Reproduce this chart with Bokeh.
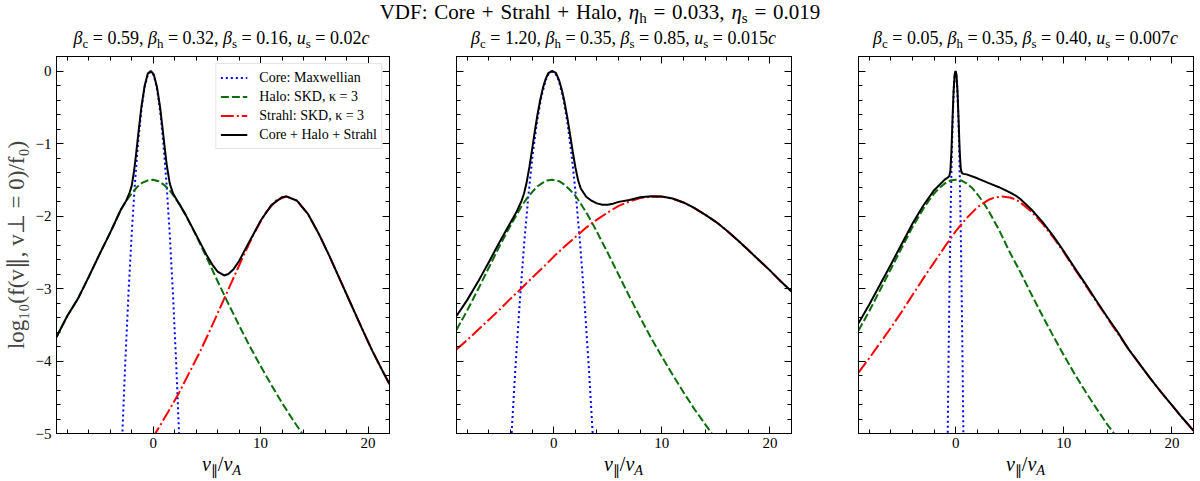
from bokeh.plotting import figure
from bokeh.layouts import row, column
from bokeh.models import (Div, LinearAxis, SingleIntervalTicker, Range1d, Legend, LegendItem,
                          CustomJSTickFormatter, InlineStyleSheet)
from bokeh.embed import file_html
from bokeh.resources import INLINE

SERIF = "Liberation Serif"

# ---------------- data ----------------
main_title = "VDF: Core + Strahl + Halo, <i>η</i><sub>h</sub> = 0.033, <i>η</i><sub>s</sub> = 0.019"
panel_titles = [
    "<i>β</i><sub>c</sub> = 0.59, <i>β</i><sub>h</sub> = 0.32, <i>β</i><sub>s</sub> = 0.16, <i>u</i><sub>s</sub> = 0.02<i>c</i>",
    "<i>β</i><sub>c</sub> = 1.20, <i>β</i><sub>h</sub> = 0.35, <i>β</i><sub>s</sub> = 0.85, <i>u</i><sub>s</sub> = 0.015<i>c</i>",
    "<i>β</i><sub>c</sub> = 0.05, <i>β</i><sub>h</sub> = 0.35, <i>β</i><sub>s</sub> = 0.40, <i>u</i><sub>s</sub> = 0.007<i>c</i>",
]
legend_labels = ["Core: Maxwellian", "Halo: SKD, κ = 3", "Strahl: SKD, κ = 3", "Core + Halo + Strahl"]
x_label = "<i>v</i><sub>∥</sub>/<i>v</i><sub><i>A</i></sub>"
y_label = "log₁₀(f(v∥, v⊥ = 0)/f₀)"

# Panel 1
p1_core_v = [-2.9, -2.6, -2.3, -2.0, -1.7, -1.4, -1.1, -0.8, -0.5, -0.23, 0.05, 0.35, 0.65, 0.95, 1.25, 1.55, 1.85, 2.15, 2.45]
p1_core_y = [-5.11, -4.03, -3.07, -2.25, -1.55, -0.98, -0.54, -0.23, -0.05, -0.01, -0.06, -0.24, -0.55, -1.0, -1.57, -2.27, -3.10, -4.06, -5.15]
p1_halo_v = [-9, -8, -7, -6, -5, -4, -3, -2.5, -2, -1.5, -1, -0.5, 0, 0.5, 1, 1.5, 2, 2.5, 3, 4, 5, 6, 7, 8, 9, 10, 11, 12, 13, 14]
p1_halo_y = [-3.67, -3.38, -3.14, -2.84, -2.53, -2.23, -1.91, -1.79, -1.69, -1.60, -1.54, -1.51, -1.50, -1.52, -1.57, -1.64, -1.74, -1.85, -1.98, -2.27, -2.58, -2.90, -3.21, -3.51, -3.80, -4.07, -4.33, -4.58, -4.81, -5.03]
p1_strahl_v = [-0.1, 0.4, 1.4, 2.4, 3.4, 4.4, 5.4, 6.4, 7.4, 8.4, 9.4, 10.4, 11.4, 12.4, 13.4, 14.4, 15.4, 16.4, 17.4, 18.4, 19.4, 20.4, 21.4, 22.0]
p1_strahl_y = [-5.07, -4.95, -4.70, -4.44, -4.15, -3.86, -3.54, -3.21, -2.88, -2.55, -2.24, -1.97, -1.79, -1.73, -1.79, -1.97, -2.24, -2.55, -2.88, -3.21, -3.54, -3.86, -4.15, -4.32]
p1_total_v = [-9, -8, -7, -6, -5, -4, -3, -2.5, -2.2, -2.0, -1.8, -1.6, -1.4, -1.1, -0.8, -0.5, -0.23, 0.05, 0.35, 0.65, 0.95, 1.25, 1.55, 1.85, 2.2, 2.5, 3, 4, 5, 5.5, 6, 6.6, 7, 7.5, 8, 9, 10, 11, 12, 12.4, 13.4, 14.4, 15.4, 16.4, 17.4, 18.4, 19.4, 20.4, 21.4, 22]
p1_total_y = [-3.67, -3.38, -3.14, -2.84, -2.53, -2.23, -1.91, -1.785, -1.68, -1.585, -1.40, -1.16, -0.887, -0.50, -0.208, -0.035, 0.0, -0.044, -0.218, -0.506, -0.894, -1.284, -1.556, -1.69, -1.78, -1.85, -1.978, -2.26, -2.546, -2.67, -2.766, -2.82, -2.80, -2.73, -2.62, -2.34, -2.066, -1.85, -1.74, -1.73, -1.79, -1.97, -2.24, -2.55, -2.88, -3.21, -3.54, -3.86, -4.15, -4.32]

# Panel 2
p2_core_v = [-3.95, -3.55, -3.15, -2.75, -2.35, -1.95, -1.55, -1.15, -0.75, -0.45, -0.15, 0.15, 0.45, 0.85, 1.25, 1.65, 2.05, 2.45, 2.85, 3.25, 3.65]
p2_core_y = [-5.13, -4.10, -3.20, -2.40, -1.72, -1.15, -0.70, -0.355, -0.128, -0.032, -0.01, -0.032, -0.128, -0.355, -0.70, -1.15, -1.72, -2.40, -3.20, -4.10, -5.13]
p2_halo_v = [-9, -8, -7, -6, -5, -4, -3.5, -3, -2.5, -2, -1.5, -1, -0.6, -0.15, 0.5, 1, 1.5, 2, 2.5, 3, 3.5, 4, 5, 6, 7, 8, 9, 10, 11, 12, 13, 14, 15]
p2_halo_y = [-3.57, -3.30, -3.01, -2.71, -2.41, -2.13, -2.00, -1.87, -1.76, -1.67, -1.59, -1.54, -1.51, -1.50, -1.52, -1.57, -1.64, -1.72, -1.83, -1.95, -2.08, -2.22, -2.51, -2.81, -3.11, -3.40, -3.68, -3.94, -4.19, -4.43, -4.66, -4.87, -5.08]
p2_strahl_v = [-9, -8, -7, -6, -5, -4, -3, -2, -1, 0, 1, 2, 3, 4, 5, 6, 7, 8, 9.35, 10, 11, 12, 13, 14, 15, 16, 17, 18, 19, 20, 21, 22]
p2_strahl_y = [-3.84, -3.71, -3.57, -3.43, -3.29, -3.14, -3.00, -2.85, -2.71, -2.56, -2.42, -2.29, -2.16, -2.05, -1.95, -1.86, -1.80, -1.752, -1.73, -1.735, -1.76, -1.814, -1.89, -1.98, -2.08, -2.20, -2.33, -2.47, -2.61, -2.75, -2.90, -3.04]
p2_total_v = [-9, -8, -7, -6, -5, -4, -3.5, -3, -2.75, -2.5, -2.25, -2, -1.75, -1.5, -1.25, -1, -0.75, -0.5, -0.15, 0.2, 0.5, 0.75, 1, 1.25, 1.5, 1.75, 2, 2.25, 2.5, 3, 3.5, 4, 4.5, 5, 5.5, 6, 7, 8, 9, 10, 11, 12, 13, 14, 15, 16, 17, 18, 19, 20, 21, 22]
p2_total_y = [-3.38, -3.157, -2.905, -2.634, -2.356, -2.089, -1.96, -1.80, -1.69, -1.53, -1.32, -1.077, -0.828, -0.597, -0.397, -0.233, -0.109, -0.028, 0.0, -0.027, -0.13, -0.261, -0.432, -0.637, -0.868, -1.107, -1.328, -1.505, -1.621, -1.734, -1.79, -1.826, -1.844, -1.844, -1.83, -1.805, -1.779, -1.742, -1.727, -1.732, -1.758, -1.813, -1.888, -1.98, -2.08, -2.20, -2.33, -2.47, -2.61, -2.75, -2.90, -3.04]

# Panel 3
p3_core_v = [-0.75, -0.67, -0.57, -0.47, -0.37, -0.27, -0.17, -0.09, -0.02, 0.05, 0.13, 0.23, 0.33, 0.43, 0.53, 0.63, 0.71]
p3_core_y = [-5.06, -4.01, -2.87, -1.92, -1.16, -0.59, -0.21, -0.047, -0.01, -0.047, -0.21, -0.59, -1.16, -1.92, -2.87, -4.01, -5.06]
p3_halo_v = [-9, -8, -7, -6, -5, -4, -3, -2.5, -2, -1.5, -1, -0.5, 0, 0.5, 1, 1.5, 2, 2.5, 3, 4, 5, 6, 7, 8, 9, 10, 11, 12, 13, 14, 15]
p3_halo_y = [-3.58, -3.31, -3.02, -2.73, -2.44, -2.15, -1.90, -1.79, -1.69, -1.61, -1.55, -1.51, -1.50, -1.51, -1.55, -1.61, -1.70, -1.80, -1.92, -2.19, -2.50, -2.78, -3.08, -3.37, -3.65, -3.92, -4.18, -4.42, -4.65, -4.87, -5.07]
p3_strahl_v = [-9, -8, -7, -6, -5, -4, -3, -2, -1, 0, 1, 2, 3, 3.5, 4.3, 5, 5.5, 6, 7, 8, 9, 10, 11, 12, 13, 14, 15, 16, 17, 18, 19, 20, 21, 22]
p3_strahl_y = [-4.16, -3.96, -3.75, -3.54, -3.32, -3.09, -2.86, -2.64, -2.42, -2.21, -2.03, -1.88, -1.78, -1.75, -1.73, -1.745, -1.77, -1.815, -1.94, -2.10, -2.29, -2.50, -2.73, -2.95, -3.18, -3.40, -3.62, -3.84, -4.04, -4.24, -4.43, -4.61, -4.79, -4.96]
p3_total_v = [-9, -8, -7, -6, -5, -4, -3, -2, -1, -0.75, -0.6, -0.5, -0.4, -0.3, -0.2, -0.1, -0.02, 0.06, 0.16, 0.26, 0.36, 0.46, 0.56, 0.7, 1, 2, 3, 4, 5, 5.5, 6, 7, 8, 9, 10, 11, 12, 13, 14, 15, 16, 17, 18, 19, 20, 21, 22]
p3_total_y = [-3.48, -3.22, -2.946, -2.668, -2.386, -2.103, -1.855, -1.644, -1.495, -1.471, -1.45, -1.38, -1.106, -0.665, -0.277, -0.043, 0.0, -0.043, -0.277, -0.665, -1.091, -1.344, -1.406, -1.419, -1.426, -1.48, -1.544, -1.603, -1.674, -1.714, -1.77, -1.91, -2.077, -2.27, -2.487, -2.715, -2.936, -3.166, -3.39, -3.605, -3.84, -4.04, -4.24, -4.43, -4.61, -4.79, -4.96]

panels = [
    (p1_core_v, p1_core_y, p1_halo_v, p1_halo_y, p1_strahl_v, p1_strahl_y, p1_total_v, p1_total_y),
    (p2_core_v, p2_core_y, p2_halo_v, p2_halo_y, p2_strahl_v, p2_strahl_y, p2_total_v, p2_total_y),
    (p3_core_v, p3_core_y, p3_halo_v, p3_halo_y, p3_strahl_v, p3_strahl_y, p3_total_v, p3_total_y),
]

# ---------------- styling / layout ----------------
FRAME_W, FRAME_H = 335, 377
TOP_B, BOT_B, RIGHT_B = 4, 26, 7
LEFT_B = [54, 60, 60]
FIG_H = TOP_B + FRAME_H + BOT_B

COLORS = ["#0000ff", "#0a6e0a", "#ff0000", "#000000"]
DASHES = ["2 3", "8 3", "13 3 2 3", "solid"]

div_css = InlineStyleSheet(css="""
:host, :host * { font-family: 'Liberation Serif', serif !important; color: #000; }
:host { text-align: center; white-space: nowrap; }
sub { font-size: 0.72em; line-height: 0; vertical-align: -0.28em; }
""")

empty_fmt = "return '';"
y_fmt = "return tick < 0 ? '\\u2212' + Math.round(Math.abs(tick)) : String(Math.round(tick));"


def style_axis(ax, ticker, labels):
    ax.ticker = ticker
    ax.major_tick_in = 7
    ax.major_tick_out = 0
    ax.minor_tick_in = 4
    ax.minor_tick_out = 0
    ax.axis_line_color = "black"
    ax.major_tick_line_color = "black"
    ax.minor_tick_line_color = "black"
    ax.major_label_text_font = SERIF
    ax.major_label_text_color = "black"
    if labels is None:
        ax.formatter = CustomJSTickFormatter(code=empty_fmt)
        ax.major_label_text_font_size = "0px"
        ax.major_label_standoff = 0
    else:
        ax.formatter = CustomJSTickFormatter(code=labels)
        ax.major_label_text_font_size = "15px"
        ax.major_label_standoff = 5


def make_panel(i):
    core_v, core_y, halo_v, halo_y, str_v, str_y, tot_v, tot_y = panels[i]
    lb = LEFT_B[i]
    p = figure(width=lb + FRAME_W + RIGHT_B, height=FIG_H,
               x_range=Range1d(-9, 22), y_range=Range1d(-5, 0.2),
               x_axis_type=None, y_axis_type=None,
               output_backend="svg", toolbar_location=None,
               min_border_left=lb, min_border_right=RIGHT_B,
               min_border_top=TOP_B, min_border_bottom=BOT_B)
    p.grid.visible = False
    p.outline_line_color = "black"
    p.outline_line_width = 1
    p.background_fill_color = "white"
    p.border_fill_color = "white"

    xt = lambda: SingleIntervalTicker(interval=10, num_minor_ticks=5)
    yt = lambda: SingleIntervalTicker(interval=1, num_minor_ticks=5)

    bx = LinearAxis()
    style_axis(bx, xt(), "return String(Math.round(tick));")
    bx.major_label_standoff = 4
    p.add_layout(bx, "below")
    tx = LinearAxis()
    style_axis(tx, xt(), None)
    p.add_layout(tx, "above")
    ly = LinearAxis()
    style_axis(ly, yt(), y_fmt if i == 0 else None)
    if i == 0:
        ly.axis_label = y_label
        ly.axis_label_text_font = SERIF
        ly.axis_label_text_font_style = "normal"
        ly.axis_label_text_font_size = "23px"
        ly.axis_label_standoff = 4
    p.add_layout(ly, "left")
    ry = LinearAxis()
    style_axis(ry, yt(), None)
    p.add_layout(ry, "right")

    r_core = p.line(core_v, core_y, line_color=COLORS[0], line_width=2, line_dash=DASHES[0])
    r_halo = p.line(halo_v, halo_y, line_color=COLORS[1], line_width=2, line_dash=DASHES[1])
    r_str = p.line(str_v, str_y, line_color=COLORS[2], line_width=2, line_dash=DASHES[2])
    r_tot = p.line(tot_v, tot_y, line_color=COLORS[3], line_width=2)

    if i == 0:
        items = [LegendItem(label=lab, renderers=[r]) for lab, r in
                 zip(legend_labels, [r_core, r_halo, r_str, r_tot])]
        leg = Legend(items=items, location="top_right")
        leg.label_text_font = SERIF
        leg.label_text_font_size = "14px"
        leg.label_text_color = "black"
        leg.glyph_width = 27
        leg.glyph_height = 19
        leg.label_height = 19
        leg.label_standoff = 12
        leg.spacing = 0
        leg.padding = 4
        leg.margin = 7
        leg.border_line_color = "#cccccc"
        leg.border_line_width = 1
        leg.background_fill_color = "white"
        leg.background_fill_alpha = 0.85
        p.add_layout(leg)

    title = Div(text=panel_titles[i], width=FRAME_W + 14, height=24,
                margin=(0, 0, 0, lb - 7),
                styles={"font-size": "18px", "line-height": "20px",
                        "font-family": "'Liberation Serif', serif"},
                stylesheets=[div_css])
    xl = Div(text=x_label, width=FRAME_W, height=22,
             margin=(0, RIGHT_B, 0, lb),
             styles={"font-size": "20px", "line-height": "10px",
                     "font-family": "'Liberation Serif', serif"},
             stylesheets=[div_css])
    return column(title, p, xl, spacing=0)


cols = [make_panel(i) for i in range(3)]
top = Div(text=main_title, width=1200, height=28, margin=(0, 0, 0, 0),
          styles={"font-size": "21px", "line-height": "24px", "word-spacing": "1.5px",
                  "font-family": "'Liberation Serif', serif"},
          stylesheets=[div_css])
layout = column(top, row(*cols, spacing=0), spacing=0)

open("out.html", "w").write(file_html(layout, INLINE, title="VDF"))
